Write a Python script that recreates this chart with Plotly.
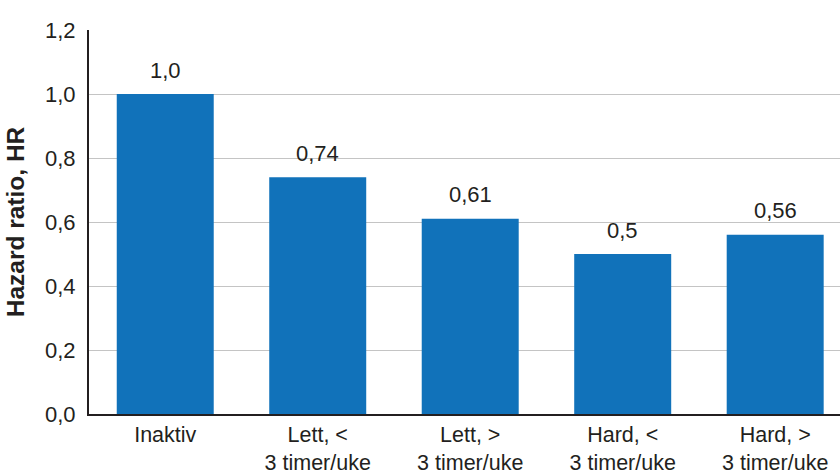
import plotly.graph_objects as go

# Activity groups and hazard ratios
categories = [
    "Inaktiv",
    "Lett, <<br>3 timer/uke",
    "Lett, ><br>3 timer/uke",
    "Hard, <<br>3 timer/uke",
    "Hard, ><br>3 timer/uke",
]
hazard_ratio = [1.0, 0.74, 0.61, 0.5, 0.56]
y_ticks = [0.0, 0.2, 0.4, 0.6, 0.8, 1.0, 1.2]

BAR_BLUE = "#1172ba"
INK = "#231f20"
FONT = "Liberation Sans, Arial, Helvetica, sans-serif"

x_pos = list(range(len(categories)))

fig = go.Figure(
    go.Bar(
        x=x_pos,
        y=hazard_ratio,
        marker=dict(color=BAR_BLUE, line=dict(width=0)),
        hoverinfo="skip",
    )
)

# Value labels above each bar, with decimal comma
for xi, v in zip(x_pos, hazard_ratio):
    fig.add_annotation(
        x=xi,
        y=v,
        text=str(v).replace(".", ","),
        showarrow=False,
        yanchor="middle",
        yshift=24,
        font=dict(family=FONT, size=22, color=INK),
    )

fig.update_layout(
    width=840,
    height=471,
    margin=dict(l=89, r=0, t=30, b=57),
    paper_bgcolor="white",
    plot_bgcolor="white",
    bargap=0.364,
    showlegend=False,
    separators=", ",
    font=dict(family=FONT, size=22, color=INK),
)

fig.update_xaxes(
    tickmode="array",
    tickvals=x_pos,
    ticktext=categories,
    range=[-0.5, 4.425],
    showgrid=False,
    showline=True,
    linecolor=INK,
    linewidth=2,
    ticks="",
    automargin=False,
    tickfont=dict(family=FONT, size=21.5, color=INK),
    fixedrange=True,
)

fig.update_yaxes(
    range=[0, 1.2],
    tickmode="array",
    tickvals=y_ticks,
    tickformat=".1f",
    showgrid=True,
    gridcolor="#c4c4c4",
    gridwidth=1,
    showline=True,
    linecolor=INK,
    linewidth=2,
    zeroline=False,
    ticks="",
    ticklabelstandoff=7,
    automargin=False,
    tickfont=dict(family=FONT, size=22, color=INK),
    title=dict(
        text="<b>Hazard ratio, HR</b>",
        font=dict(family=FONT, size=24.5, color=INK),
        standoff=13,
    ),
    fixedrange=True,
)

fig.write_html("out.html")
